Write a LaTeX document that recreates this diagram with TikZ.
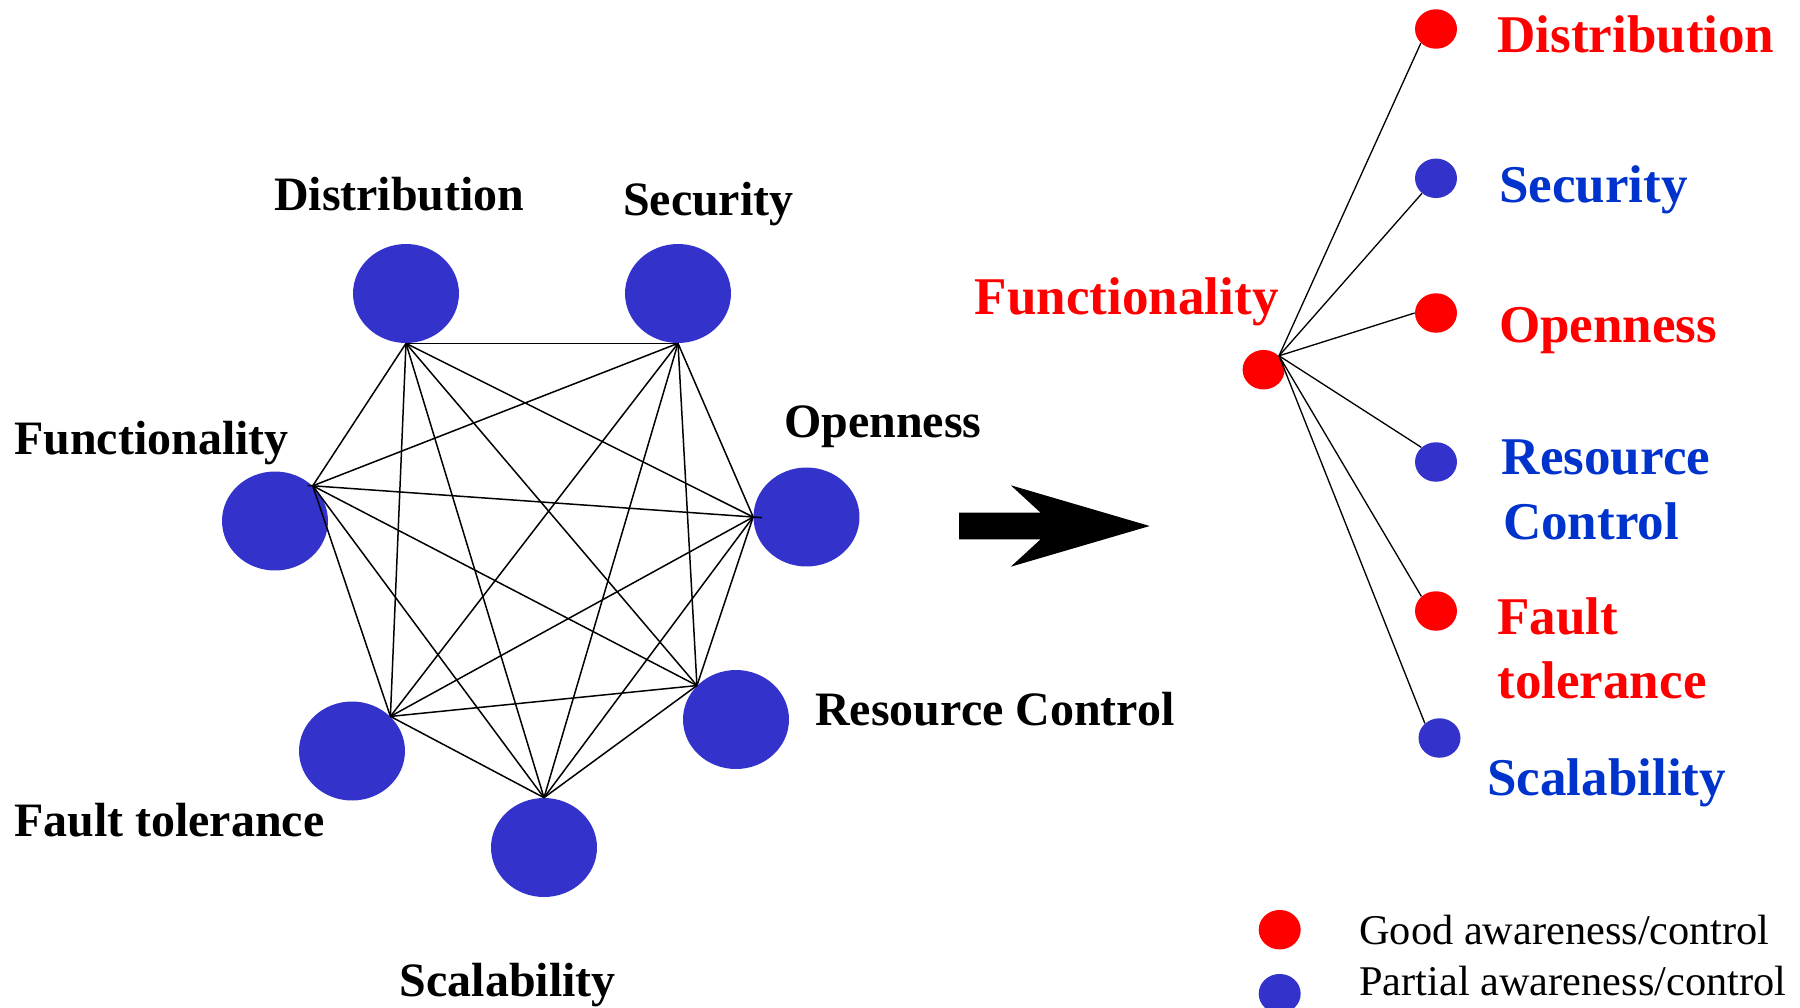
\documentclass[tikz,border=0pt]{standalone}
\usepackage{fontspec}
\setmainfont{Liberation Serif}
\usetikzlibrary{shapes.geometric}
\definecolor{nodeblue}{HTML}{3333CC}
\definecolor{textblue}{HTML}{0033CC}
\definecolor{goodred}{HTML}{FF0000}
\begin{document}
\begin{tikzpicture}[x=0.02cm,y=-0.02cm,
  bigdot/.style={ellipse, fill=nodeblue, inner sep=0pt, minimum width=2.12cm, minimum height=1.98cm},
  smalldot/.style={ellipse, inner sep=0pt, minimum width=0.84cm, minimum height=0.79cm},
  lbl/.style={anchor=base west, inner sep=0pt, font=\fontsize{27.3}{30}\selectfont\bfseries},
  rlbl/.style={anchor=base west, inner sep=0pt, font=\fontsize{30.2}{33}\selectfont\bfseries},
  leg/.style={anchor=base west, inner sep=0pt, font=\fontsize{24.1}{27}\selectfont},
  mesh/.style={line width=0.85pt},
  spoke/.style={line width=0.75pt}]
\useasboundingbox (0,0) rectangle (1800,1008);
\clip (0,0) rectangle (1800,1008);

% --- fully connected graph of seven concerns ---
\node[bigdot] (D)  at (406,293.5) {};
\node[bigdot] (S)  at (678,293.5) {};
\node[bigdot] (F)  at (275,521) {};
\node[bigdot] (O)  at (806.5,517) {};
\node[bigdot] (R)  at (736,719.5) {};
\node[bigdot] (Ft) at (352,751) {};
\node[bigdot] (Sc) at (544,847.5) {};

\coordinate (pD)  at (D.south);
\coordinate (pS)  at (S.south);
\coordinate (pF)  at (F.43);
\coordinate (pO)  at (O.west);
\coordinate (pR)  at (R.139);
\coordinate (pFt) at (Ft.42);
\coordinate (pSc) at (Sc.north);

\foreach \a/\b in {pD/pS,pD/pF,pD/pO,pD/pR,pD/pFt,pD/pSc,
                   pS/pF,pS/pO,pS/pR,pS/pFt,pS/pSc,
                   pF/pR,pF/pFt,pF/pSc,
                   pO/pR,pO/pFt,pO/pSc,
                   pR/pFt,pR/pSc,
                   pFt/pSc}
  \draw[mesh] (\a) -- (\b);
% the Functionality--Openness edge runs a little past both ends
\draw[mesh, shorten <=-3pt, shorten >=-5pt] (pF) -- (pO);

\node[lbl] (lD)  at (273.7,210)   {Distribution};
\node[lbl] (lS)  at (622.7,215)   {Security};
\node[lbl] (lF)  at (13.8,454)    {Functionality};
\node[lbl] (lO)  at (783.9,437.3) {Openness};
\node[lbl] (lR)  at (815,725)     {Resource Control};
\node[lbl] (lFt) at (13.8,836.7)  {Fault tolerance};
\node[lbl] (lSc) at (399.5,996.7) {Scalability};

% --- transition arrow ---
\fill (959,512.7) -- (1040.6,512.7) -- (1010.8,485.3) -- (1149.7,526)
      -- (1010.8,566.7) -- (1040.6,539.3) -- (959,539.3) -- cycle;

% --- functionality-centred view ---
\node[smalldot, fill=goodred]  (hub) at (1263.6,369.7) {};
\node[smalldot, fill=goodred]  (tD)  at (1436,29) {};
\node[smalldot, fill=nodeblue] (tS)  at (1436,178.3) {};
\node[smalldot, fill=goodred]  (tO)  at (1436,313) {};
\node[smalldot, fill=nodeblue] (tR)  at (1436,462) {};
\node[smalldot, fill=goodred]  (tFt) at (1436,611) {};
\node[smalldot, fill=nodeblue] (tSc) at (1439.5,738) {};

\draw[spoke] (hub.42) -- (tD.223);
\draw[spoke] (hub.42) -- (tS.227);
\draw[spoke] (hub.42) -- (tO.west);
\draw[spoke] (hub.42) -- (tR.135);
\draw[spoke] (hub.42) -- (tFt.135);
\draw[spoke] (hub.42) -- (tSc.135);

\node[rlbl, text=goodred]   (nF)  at (974.6,314.3)  {Functionality};
\node[rlbl, text=goodred]   (nD)  at (1497,52.3)    {Distribution};
\node[rlbl, text=textblue]  (nS)  at (1498.7,202.3) {Security};
\node[rlbl, text=goodred]   (nO)  at (1498.7,342.3) {Openness};
\node[rlbl, text=textblue]  (nR1) at (1501.5,474)   {Resource};
\node[rlbl, text=textblue]  (nR2) at (1502.7,539.3) {Control};
\node[rlbl, text=goodred]   (nF1) at (1497,634.3)   {Fault};
\node[rlbl, text=goodred]   (nF2) at (1497,698.3)   {tolerance};
\node[rlbl, text=textblue]  (nSc) at (1487,795)     {Scalability};

% --- legend ---
\node[smalldot, fill=goodred]  (kGood) at (1279.7,929.7) {};
\node[smalldot, fill=nodeblue] (kPart) at (1279.7,993.7) {};
\node[leg] (kGoodText) at (1359,944) {Good awareness/control};
\node[leg] (kPartText) at (1359,995) {Partial awareness/control};
\end{tikzpicture}
\end{document}
